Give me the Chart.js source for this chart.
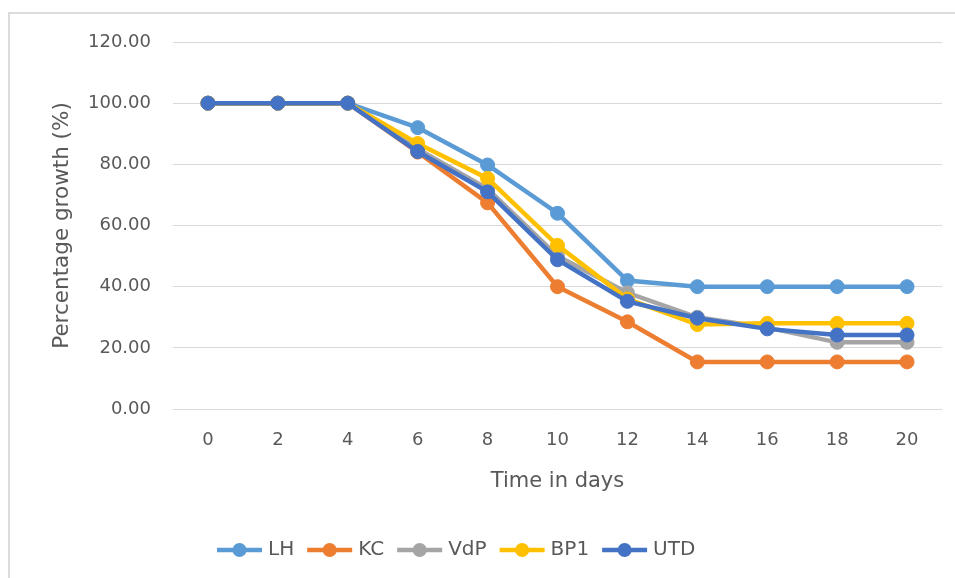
<!DOCTYPE html>
<html>
<head>
<meta charset="utf-8">
<script src="https://cdn.jsdelivr.net/npm/chart.js@4/dist/chart.umd.min.js"></script>
<style>
html,body{margin:0;padding:0;background:#fff;overflow:hidden;}
#frame{position:absolute;left:8px;top:12px;width:980px;height:600px;border:2px solid #dcdcdc;box-sizing:border-box;}
#c{position:absolute;left:0;top:0;}
</style>
</head>
<body>
<div id="frame"></div>
<canvas id="c" width="955" height="578"></canvas>
<script>
const days = ['0','2','4','6','8','10','12','14','16','18','20'];
const LH  = [100,100,100,92.0,79.8,64.0,42.0,40.0,40.0,40.0,40.0];
const KC  = [100,100,100,84.0,67.4,40.0,28.5,15.4,15.4,15.4,15.4];
const VdP = [100,100,100,85.0,72.0,50.0,38.0,30.0,26.6,21.8,21.8];
const BP1 = [100,100,100,86.8,75.4,53.5,36.0,27.6,28.0,28.0,28.0];
const UTD = [100,100,100,84.2,71.0,48.8,35.2,29.7,26.2,24.2,24.2];
const seriesNames = ['LH','KC','VdP','BP1','UTD'];
const seriesData = [LH,KC,VdP,BP1,UTD];
const colors = ['#5B9BD5','#ED7D31','#A5A5A5','#FFC000','#4472C4'];
const yTicks = [0,20,40,60,80,100,120];

const FONT = "'DejaVu Sans', sans-serif";
const TXT = '#595959';

const datasets = seriesNames.map((n,i)=>({
  label:n,
  data:seriesData[i],
  borderColor:colors[i],
  backgroundColor:colors[i],
  pointBackgroundColor:colors[i],
  pointBorderColor:colors[i],
  borderWidth:4.5,
  pointRadius:7,
  pointBorderWidth:1,
  tension:0,
  order:5-i
}));

const legendPlugin = {
  id:'customLegend',
  afterDraw(chart){
    const ctx = chart.ctx;
    ctx.save();
    ctx.font = "20px " + FONT;
    ctx.textBaseline = 'middle';
    let x = 217;
    const y = 550;
    seriesNames.forEach((n,i)=>{
      ctx.strokeStyle = colors[i];
      ctx.lineWidth = 4.5;
      ctx.beginPath();
      ctx.moveTo(x,y);ctx.lineTo(x+45,y);ctx.stroke();
      ctx.fillStyle = colors[i];
      ctx.beginPath();ctx.arc(x+22.5,y,7,0,Math.PI*2);ctx.fill();
      ctx.fillStyle = TXT;
      ctx.textAlign='left';
      ctx.fillText(n,x+51,y);
      x += 51 + ctx.measureText(n).width + 13;
    });
    ctx.restore();
  }
};

new Chart(document.getElementById('c'),{
  type:'line',
  data:{labels:days,datasets:datasets},
  plugins:[legendPlugin],
  options:{
    responsive:false,
    animation:false,
    layout:{padding:{left:45,top:42,right:13,bottom:0}},
    plugins:{legend:{display:false},tooltip:{enabled:false}},
    scales:{
      x:{
        type:'category',
        offset:true,
        grid:{display:false,drawTicks:false},
        border:{display:false},
        ticks:{color:TXT,font:{family:FONT,size:18},padding:21,maxRotation:0,autoSkip:false},
        title:{display:true,text:'Time in days',color:TXT,font:{family:FONT,size:21},padding:{top:0,bottom:84}},
        afterFit(s){s.height=169;}
      },
      y:{
        min:0,max:120,
        afterBuildTicks(s){s.ticks = yTicks.map(v=>({value:v}));},
        grid:{color:'#d9d9d9',lineWidth:1,drawTicks:false},
        border:{display:false},
        ticks:{color:TXT,font:{family:FONT,size:18},padding:22,callback:v=>Number(v).toFixed(2)},
        title:{display:true,text:'Percentage growth (%)',color:TXT,font:{family:FONT,size:21.5},padding:{top:5,bottom:0}},
        afterFit(s){s.width=128;}
      }
    }
  }
});
</script>
</body>
</html>
